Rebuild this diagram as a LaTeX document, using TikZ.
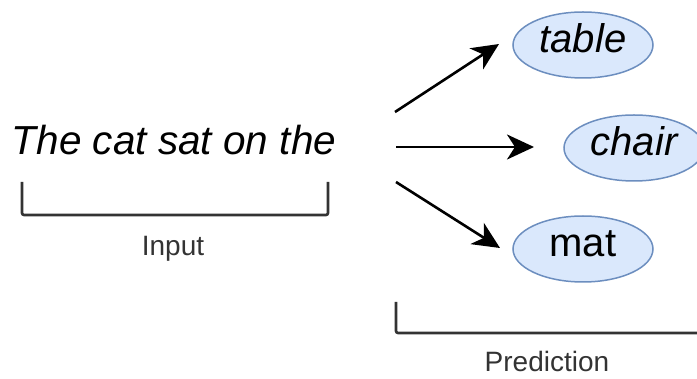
\documentclass[tikz,border=0pt]{standalone}
\usepackage{fontspec}
\setmainfont{Liberation Sans}
\usetikzlibrary{arrows.meta, shapes.geometric}

\definecolor{wordfill}{HTML}{DAE8FC}
\definecolor{wordedge}{HTML}{6C8EBF}

\begin{document}
\begin{tikzpicture}[
  x=1pt, y=-1pt,
  word/.style={ellipse, draw=wordedge, fill=wordfill, line width=1.5pt,
    minimum width=140pt, minimum height=66pt, inner sep=0pt,
    text height=30pt, text depth=14pt, font=\fontsize{40}{44}\selectfont},
  arrow/.style={-{Stealth[length=27pt, width=25pt, inset=8pt]}, line width=2.6pt},
  bracket/.style={draw=black!80, line width=2.6pt, rounded corners=2pt},
  caption/.style={anchor=base, text=black!80, font=\fontsize{28}{32}\selectfont}
]
\useasboundingbox (0,0) rectangle (697,379);

% Input sentence
\node[anchor=base, font=\fontsize{40.5}{44}\selectfont\itshape] (sentence) at (174,155) {The cat sat on the};
\draw[bracket] (22,182) |- (328,215) -- (328,182);
\node[caption] (input) at (173,256) {Input};

% Candidate words
\node[word] (table) at (583,45) {\itshape table};
\node[word] (chair) at (634,148) {\itshape chair};
\node[word] (mat) at (583,249) {mat};

% Arrows towards the candidates
\coordinate (from1) at (395,112);
\coordinate (from2) at (396,147);
\coordinate (from3) at (396,182);
\coordinate (to1) at (499,44);
\coordinate (to2) at (534,147);
\coordinate (to3) at (500,248);
\draw[arrow] (from1) -- (to1);
\draw[arrow] (from2) -- (to2);
\draw[arrow] (from3) -- (to3);

% Prediction bracket
\draw[bracket] (396,302) |- (705,333);
\node[caption] (prediction) at (547,372) {Prediction};

\end{tikzpicture}
\end{document}
